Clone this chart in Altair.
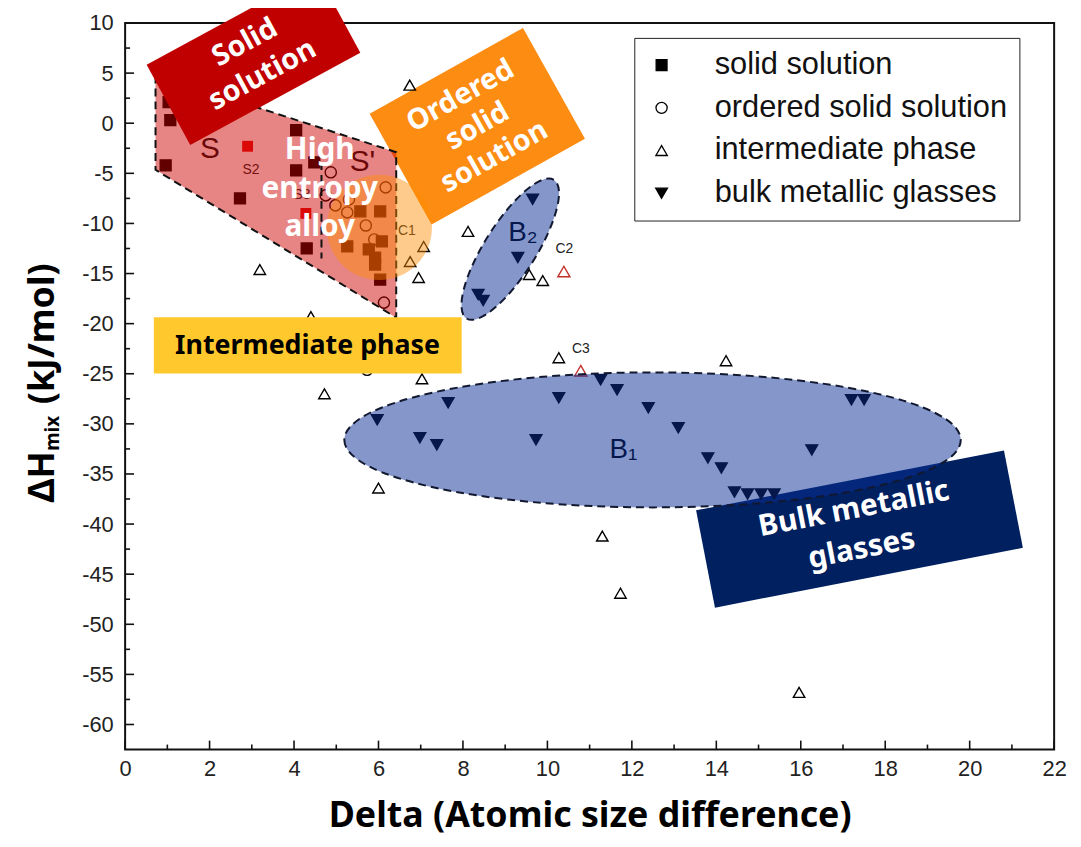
import altair as alt
import pandas as pd

# ---------------- data ----------------
phases = ["solid solution", "ordered solid solution", "intermediate phase", "bulk metallic glasses"]

ss_x = [1.03, 1.07, 0.96, 2.72, 4.05, 4.05, 4.48, 4.30, 5.26, 5.57, 6.04, 6.08, 5.77, 5.92, 5.92, 6.04]
ss_y = [2.1, 0.3, -4.2, -7.5, -0.7, -4.7, -3.9, -12.5, -12.3, -8.8, -8.8, -11.8, -12.6, -13.4, -14.1, -15.6]

oss_x = [4.87, 6.17, 4.75, 4.98, 5.30, 5.26, 5.70, 5.90, 6.13, 5.73]
oss_y = [-4.9, -6.4, -7.2, -8.2, -7.6, -8.9, -10.2, -11.6, -17.9, -24.6]

ip_x = [6.74, 7.07, 6.75, 6.95, 3.19, 4.40, 8.12, 9.57, 9.89, 7.03, 4.72, 6.00, 10.27, 14.23, 11.30, 11.73, 15.96]
ip_y = [3.8, -12.3, -13.8, -15.4, -14.6, -19.3, -10.8, -15.1, -15.7, -25.5, -27.0, -36.4, -23.4, -23.7, -41.2, -46.9, -56.8]

bmg_x = [9.65, 9.30, 8.36, 8.48, 5.97, 6.98, 7.38, 7.65, 9.73, 10.27, 11.26, 11.65, 12.39, 13.10,
         13.80, 14.12, 14.43, 14.74, 15.06, 15.37, 17.20, 17.50, 16.26]
bmg_y = [-7.6, -13.4, -17.1, -17.7, -29.6, -31.4, -32.1, -27.9, -31.6, -27.4, -25.6, -26.6, -28.4, -30.4,
         -33.4, -34.4, -36.8, -37.0, -37.0, -37.0, -27.6, -27.6, -32.6]

# highlighted (red) samples
red_sq_x = [2.90, 4.28]
red_sq_y = [-2.3, -9.0]
red_tri_x = [10.39, 10.79]
red_tri_y = [-14.8, -24.7]

# point labels
big_text = ["S", "S'"]
big_x = [2.01, 5.62]
big_y = [-2.6, -3.9]
lab_text = ["S2", "S3", "C1", "C2", "C3"]
lab_x = [2.98, 4.19, 6.67, 10.40, 10.79]
lab_y = [-4.65, -7.2, -10.8, -12.6, -22.5]

# solid-solution region (dashed polygon)
region_x = [0.72, 6.42]
region_top = [4.85, -2.89]
region_bottom = [-4.65, -19.4]

# axis ticks / labels
x_labels = [0, 2, 4, 6, 8, 10, 12, 14, 16, 18, 20, 22]
x_minor = [1, 3, 5, 7, 9, 11, 13, 15, 17, 19, 21]
y_labels = [-60, -55, -50, -45, -40, -35, -30, -25, -20, -15, -10, -5, 0, 5, 10]
y_minor = [-57.5, -52.5, -47.5, -42.5, -37.5, -32.5, -27.5, -22.5, -17.5, -12.5, -7.5, -2.5, 2.5, 7.5]

# ---------------- tables ----------------
pts = pd.concat([
    pd.DataFrame({"x": ss_x, "y": ss_y, "phase": phases[0]}),
    pd.DataFrame({"x": oss_x, "y": oss_y, "phase": phases[1]}),
    pd.DataFrame({"x": ip_x, "y": ip_y, "phase": phases[2]}),
    pd.DataFrame({"x": bmg_x, "y": bmg_y, "phase": phases[3]}),
], ignore_index=True)
red_sq = pd.DataFrame({"x": red_sq_x, "y": red_sq_y})
red_tri = pd.DataFrame({"x": red_tri_x, "y": red_tri_y})
bigl = pd.DataFrame({"x": big_x, "y": big_y, "t": big_text})
labs = pd.DataFrame({"x": lab_x, "y": lab_y, "t": lab_text})
region = pd.DataFrame({"x": region_x, "y": region_top, "y2": region_bottom})
one = pd.DataFrame({"n": [0]})

W, H = 936, 732
LABEL_FONT = "Liberation Sans"
BOLD_FONT = "Noto Sans"

xscale = alt.Scale(domain=[0, 22], nice=False, zero=False)
yscale = alt.Scale(domain=[-62.5, 10], nice=False, zero=False)
xaxis = alt.Axis(values=x_labels, ticks=False, domain=False, grid=False, labelFlush=False,
                 labelFont=LABEL_FONT, labelFontSize=22, labelColor="#222", labelPadding=9,
                 labelExpr="'' + datum.value",
                 title="Delta (Atomic size difference)", titleFont=BOLD_FONT, titleFontSize=36,
                 titleFontWeight="bold", titleColor="black", titlePadding=20)
yaxis = alt.Axis(values=y_labels, ticks=False, domain=False, grid=False, labelFlush=False,
                 labelFont=LABEL_FONT, labelFontSize=22, labelColor="#222", labelPadding=12,
                 labelExpr="'' + datum.value", title="")
X = alt.X("x:Q", scale=xscale, axis=xaxis)
Y = alt.Y("y:Q", scale=yscale, axis=yaxis)


def at(xv, yv):
    return dict(x=alt.datum(xv), y=alt.datum(yv))


def RECT(r):
    return f"M-1,-{r}L1,-{r}L1,{r}L-1,{r}Z"


def ELL(r):
    return f"M-1,0A1,{r} 0 1,0 1,0A1,{r} 0 1,0 -1,0Z"


LEG = alt.Legend(orient="none", legendX=513, legendY=15, title="", padding=12,
                 strokeColor="#222", fillColor="white",
                 labelFont=LABEL_FONT, labelFontSize=31, labelColor="#111", labelOffset=38,
                 labelLimit=500, rowPadding=11, symbolStrokeWidth=1.3,
                 cornerRadius=0, titlePadding=0)

# ---------------- layers ----------------
navy_box = alt.Chart(one).mark_point(shape=RECT(0.316), size=316 ** 2, angle=349, filled=True,
                                     fill="#002060", opacity=1, strokeWidth=0).encode(**at(17.39, -40.5))
orange_box = alt.Chart(one).mark_point(shape=RECT(0.723), size=177 ** 2, angle=330.8, filled=True,
                                       fill="#fd8c12", opacity=1, strokeWidth=0).encode(**at(8.34, -0.3))

points = alt.Chart(pts).mark_point(opacity=1, strokeWidth=1.4).encode(
    x=X, y=Y,
    shape=alt.Shape("phase:N", title="", sort=phases, legend=LEG,
                    scale=alt.Scale(domain=phases, range=["square", "circle", "triangle-up", "triangle-down"])),
    fill=alt.Fill("phase:N", title="", sort=phases, legend=LEG,
                  scale=alt.Scale(domain=phases, range=["black", "transparent", "transparent", "black"])),
    stroke=alt.Stroke("phase:N", title="", sort=phases, legend=LEG,
                      scale=alt.Scale(domain=phases, range=["black", "black", "black", "black"])),
    size=alt.Size("phase:N", title="", sort=phases, legend=LEG,
                  scale=alt.Scale(domain=phases, range=[120, 140, 150, 210])),
)
red_sq_layer = alt.Chart(red_sq).mark_point(shape="square", size=120, filled=True, fill="#e81010",
                                            opacity=1, strokeWidth=0).encode(x=X, y=Y)
red_tri_layer = alt.Chart(red_tri).mark_point(shape="triangle-up", size=150, filled=False,
                                              stroke="#c0302a", strokeWidth=1.4, opacity=1).encode(x=X, y=Y)

big_S = alt.Chart(bigl).mark_text(font=LABEL_FONT, fontSize=30, color="#111").encode(
    x=X, y=Y, text="t:N")
small_only = alt.Chart(labs).mark_text(font=LABEL_FONT, fontSize=14, color="#222").encode(
    x=X, y=Y, text="t:N")
b2_text = alt.Chart(one).mark_text(text="B₂", font=LABEL_FONT, fontSize=28, color="#000").encode(**at(9.42, -11.0))
b1_text = alt.Chart(one).mark_text(text="B₁", font=LABEL_FONT, fontSize=28, color="#000").encode(**at(11.8, -32.6))

pink = alt.Chart(region).mark_area(fill="#cc0000", fillOpacity=0.48, stroke="#111", strokeDash=[8, 5],
                                   strokeWidth=2, strokeOpacity=1).encode(x=X, y=Y, y2="y2:Q")
divider = alt.Chart(one).mark_rule(color="#111", strokeDash=[8, 5], strokeWidth=2).encode(
    x=alt.datum(4.65), y=alt.datum(-2.6), y2=alt.datum(-13.5))
hea_circle = alt.Chart(one).mark_point(shape="circle", size=106 ** 2, filled=True, fill="#ff8c00",
                                       opacity=0.45, strokeWidth=0).encode(**at(6.02, -10.4))
ell_b1 = alt.Chart(one).mark_point(shape=ELL(0.219), size=621 ** 2, filled=True, fill="#0a2d96",
                                   fillOpacity=0.5, opacity=1, stroke="#111830", strokeWidth=2,
                                   strokeDash=[8, 5]).encode(**at(12.49, -31.6))
ell_b2 = alt.Chart(one).mark_point(shape=ELL(0.314), size=165 ** 2, angle=302.2, filled=True,
                                   fill="#0a2d96", fillOpacity=0.5, opacity=1, stroke="#111830",
                                   strokeWidth=2, strokeDash=[8, 5]).encode(**at(9.12, -12.57))

red_box = alt.Chart(one).mark_point(shape=RECT(0.472), size=195 ** 2, angle=331.5, filled=True,
                                    fill="#c00000", opacity=1, strokeWidth=0).encode(**at(3.04, 6.44))
yellow_box = alt.Chart(one).mark_rect(color="#ffc92e", opacity=1).encode(
    x=alt.datum(0.68), x2=alt.datum(7.97), y=alt.datum(-19.36), y2=alt.datum(-24.98))


def box_text(txt, xv, yv, size, lh, color="white", angle=0):
    n = txt.count("\n")
    kw = dict(text=txt, font=BOLD_FONT, fontWeight="bold", fontSize=size, color=color,
              lineBreak="\n", lineHeight=lh, align="center", baseline="middle")
    if n:
        kw["dy"] = -n * lh / 2
    if angle:
        kw["angle"] = angle
    return alt.Chart(one).mark_text(**kw).encode(**at(xv, yv))


t_solid = box_text("Solid\nsolution", 3.04, 6.44, 29, 37, angle=331.5)
t_ordered = box_text("Ordered\nsolid\nsolution", 8.34, -0.3, 29, 35, angle=330.8)
t_hea = box_text("High\nentropy\nalloy", 4.61, -6.53, 30, 39)
t_inter = box_text("Intermediate phase", 4.32, -22.2, 27, 30, color="black")
t_bmg = box_text("Bulk metallic\nglasses", 17.35, -40.5, 30, 41, angle=349)

# inward ticks
xt_major = alt.Chart(pd.DataFrame({"x": x_labels})).mark_rule(color="#111", strokeWidth=1.6).encode(
    x=X, y=alt.value(H), y2=alt.value(H - 9))
xt_minor = alt.Chart(pd.DataFrame({"x": x_minor})).mark_rule(color="#111", strokeWidth=1.6).encode(
    x=X, y=alt.value(H), y2=alt.value(H - 5))
yt_major = alt.Chart(pd.DataFrame({"y": y_labels})).mark_rule(color="#111", strokeWidth=1.6).encode(
    y=Y, x=alt.value(0), x2=alt.value(9))
yt_minor = alt.Chart(pd.DataFrame({"y": y_minor})).mark_rule(color="#111", strokeWidth=1.6).encode(
    y=Y, x=alt.value(0), x2=alt.value(5))


# y title with subscript
def ytitle(txt, yv, xv, size):
    return alt.Chart(one).mark_text(text=txt, font=BOLD_FONT, fontWeight="bold", fontSize=size,
                                    color="black", angle=270, align="left", baseline="alphabetic").encode(
        x=alt.value(xv), y=alt.value(yv))


yt1 = ytitle("ΔH", 483, -72, 36)
yt2 = ytitle("mix", 431, -67, 19)
yt3 = ytitle("(kJ/mol)", 384, -72, 36)

chart = alt.layer(
    navy_box, orange_box,
    points, red_sq_layer, red_tri_layer, big_S, small_only, b2_text, b1_text,
    pink, divider, hea_circle, ell_b1, ell_b2,
    red_box, yellow_box,
    t_solid, t_ordered, t_hea, t_inter, t_bmg,
    xt_major, xt_minor, yt_major, yt_minor,
    yt1, yt2, yt3,
).properties(
    width=W, height=H,
    background="white",
    autosize=alt.AutoSizeParams(type="none"),
    padding={"left": 118, "top": 12, "right": 19, "bottom": 87},
).configure_view(
    stroke="#111", strokeWidth=2
).configure_legend(
    titleFontSize=0,
)

chart.save("out.html", embed_options={"renderer": "svg", "actions": False})
